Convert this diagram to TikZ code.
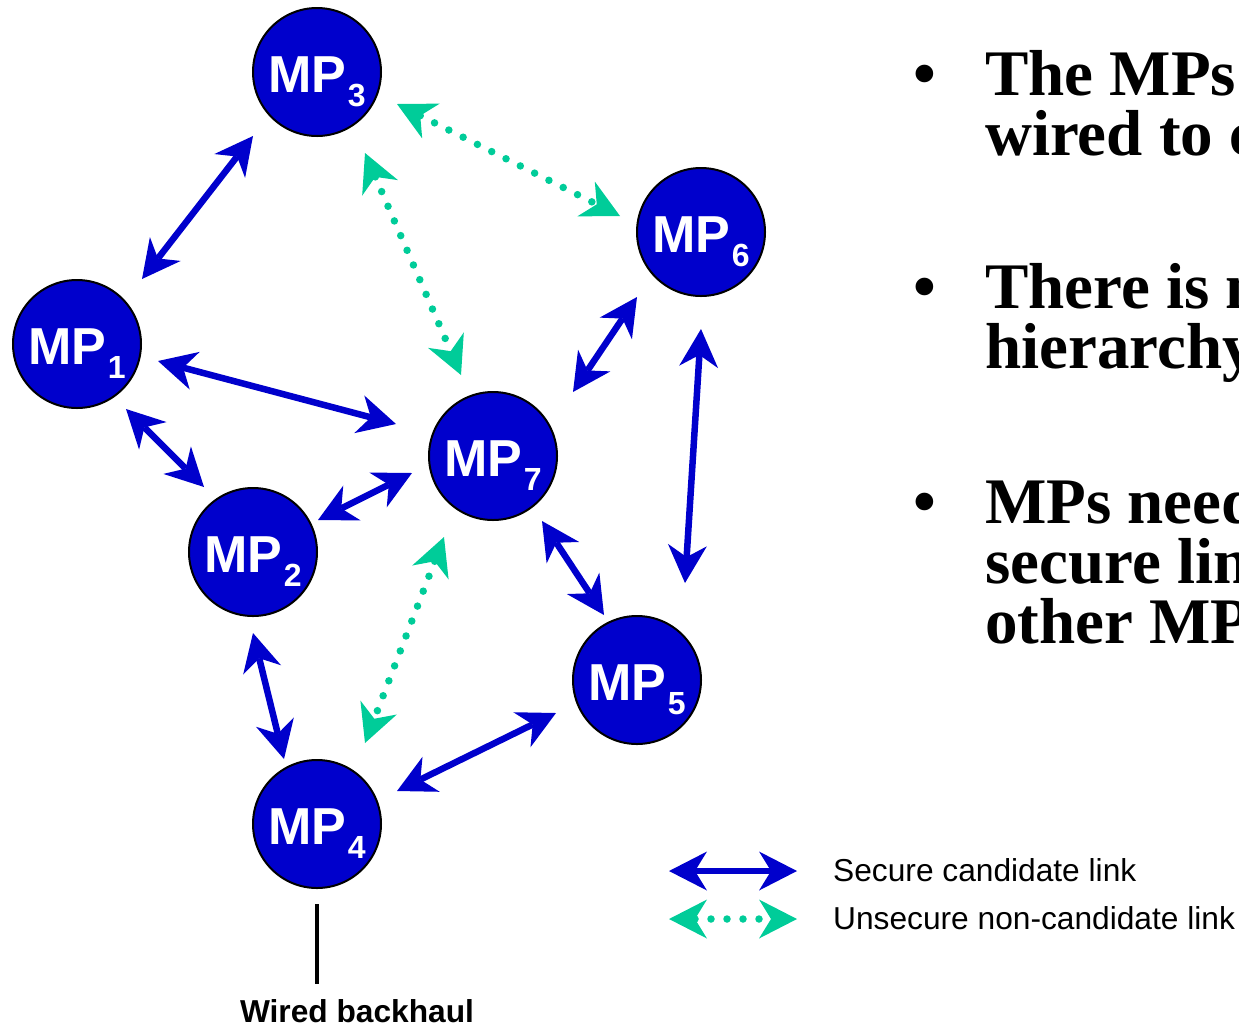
\documentclass[tikz,border=0pt]{standalone}
\usepackage{fontspec}
\setmainfont{Liberation Serif}
\newfontfamily\arialf{Liberation Sans}
\usetikzlibrary{arrows.meta,calc}
\definecolor{mpblue}{RGB}{0,0,204}
\definecolor{mpgreen}{RGB}{0,204,153}
\newcommand\mpsub[1]{\kern1.5pt\raisebox{-14.5pt}{\fontsize{32}{32}\selectfont #1}}
\begin{document}
\begin{tikzpicture}[x=1pt,y=-1pt,
  mp/.style={circle, fill=mpblue, draw=black, line width=2pt, minimum size=128pt, inner sep=0pt, text=white,
    font=\arialf\bfseries\fontsize{52}{52}\selectfont, text height=40pt, text depth=0pt},
  sec/.style={draw=mpblue, line width=6.5pt, >={Stealth[length=38pt,width=39pt,inset=12pt,line width=0pt]}, <->},
  uns/.style={draw=mpgreen, line width=7.5pt, line cap=round, dash pattern=on 0pt off 16pt,
    >={Stealth[length=38pt,width=39pt,inset=12pt,line width=0pt]}, <->},
  rt/.style={anchor=base west, inner sep=0pt, font=\bfseries\fontsize{65}{65}\selectfont},
  bul/.style={anchor=base, inner sep=0pt, font=\bfseries\fontsize{65}{65}\selectfont},
  leg/.style={anchor=base west, inner sep=0pt, font=\arialf\fontsize{31.7}{32}\selectfont},
  wire/.style={draw=black, line width=3.5pt},
]
\useasboundingbox (0,0) rectangle (1239,1029);
\clip (0,0) rectangle (1239,1029);

% mesh points
\node[mp] (mp1) at (77,344) {MP\mpsub{1}};
\node[mp] (mp2) at (253,552) {MP\mpsub{2}};
\node[mp] (mp3) at (317,72) {MP\mpsub{3}};
\node[mp] (mp4) at (317,824) {MP\mpsub{4}};
\node[mp] (mp5) at (637,680) {MP\mpsub{5}};
\node[mp] (mp6) at (701,232) {MP\mpsub{6}};
\node[mp] (mp7) at (493,456) {MP\mpsub{7}};

% secure candidate links
\draw[sec] ($(mp3)+(-64,64)$) -- ($(mp1)+(65,-65)$);
\draw[sec] ($(mp1)+(81,17)$) -- ($(mp7)+(-97,-32)$);
\draw[sec] ($(mp1)+(49,65)$) -- ($(mp2)+(-49,-65)$);
\draw[sec] ($(mp2)+(65,-32)$) -- ($(mp7)+(-81,17)$);
\draw[sec] ($(mp7)+(80,-64)$) -- ($(mp6)+(-64,65)$);
\draw[sec] ($(mp6)+(0,97)$) -- ($(mp5)+(48,-97)$);
\draw[sec] ($(mp7)+(49,65)$) -- ($(mp5)+(-33,-65)$);
\draw[sec] ($(mp2)+(0,81)$) -- ($(mp4)+(-33,-65)$);
\draw[sec] ($(mp4)+(80,-33)$) -- ($(mp5)+(-81,33)$);

% unsecure non-candidate links
\draw[uns] ($(mp3)+(80,32)$) -- ($(mp6)+(-81,-16)$);
\draw[uns] ($(mp3)+(48,81)$) -- ($(mp7)+(-32,-81)$);
\draw[uns] ($(mp7)+(-49,81)$) -- ($(mp4)+(48,-81)$);

% wired backhaul
\coordinate (wbend) at (317,984);
\draw[wire] ($(mp4)+(0,80)$) -- (wbend);
\node[anchor=base, inner sep=0pt, font=\arialf\bfseries\fontsize{31.7}{32}\selectfont] (wb) at (357,1022) {Wired backhaul};

% legend
\coordinate (lb1) at (669,871);
\coordinate (lb2) at (797,871);
\draw[sec] (lb1) -- (lb2);
\coordinate (lg1) at (669,919);
\coordinate (lg2) at (797,919);
\draw[uns] (lg1) -- (lg2);
\node[leg] (leg1) at (833,881) {Secure candidate link};
\node[leg] (leg2) at (833,929) {Unsecure non-candidate link};

% bullet text
\node[bul] (b1) at (925,95) {•};
\node[rt] (t1a) at (985,95) {The MPs};
\node[rt] (t1b) at (985,155) {wired to c};
\node[bul] (b2) at (925,308) {•};
\node[rt] (t2a) at (985,308) {There is n};
\node[rt] (t2b) at (985,368) {hierarchy};
\node[bul] (b3) at (925,523) {•};
\node[rt] (t3a) at (985,523) {MPs need};
\node[rt] (t3b) at (985,583) {secure lin};
\node[rt] (t3c) at (985,643) {other MP};
\end{tikzpicture}
\end{document}
